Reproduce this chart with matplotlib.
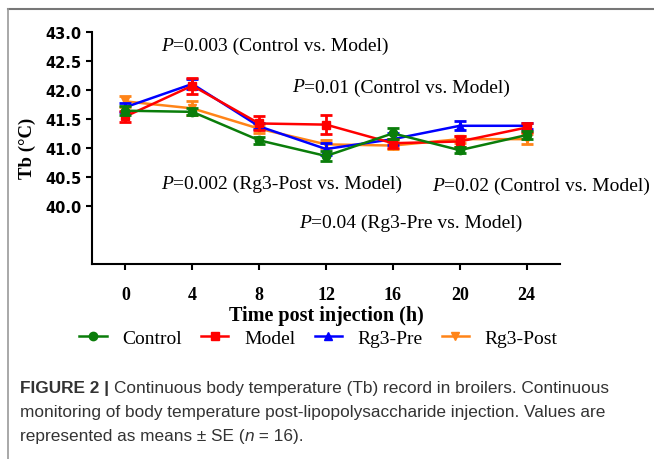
import matplotlib
matplotlib.use("Agg")
import matplotlib.pyplot as plt
from matplotlib.lines import Line2D

# ------------------------------------------------------
# Data
# ------------------------------------------------------
hours = [0, 4, 8, 12, 16, 20, 24]

control = [41.64, 41.62, 41.13, 40.86, 41.25, 40.96, 41.22]
control_se = [0.08, 0.06, 0.06, 0.09, 0.10, 0.05, 0.07]

model = [41.54, 42.07, 41.42, 41.40, 41.08, 41.11, 41.35]
model_se = [0.10, 0.14, 0.12, 0.17, 0.08, 0.09, 0.08]

rg3_pre = [41.70, 42.10, 41.37, 40.98, 41.15, 41.38, 41.38]
rg3_pre_se = [0.08, 0.08, 0.05, 0.10, 0.10, 0.08, 0.05]

rg3_post = [41.80, 41.68, 41.33, 41.06, 41.04, 41.15, 41.15]
rg3_post_se = [0.10, 0.12, 0.07, 0.07, 0.06, 0.06, 0.09]

y_ticks = [40.0, 40.5, 41.0, 41.5, 42.0, 42.5, 43.0]

annotations = [
    ("0.003 (Control vs. Model)", 2.15, 42.77),
    ("0.01 (Control vs. Model)", 10.0, 42.05),
    ("0.002 (Rg3-Post vs. Model)", 2.15, 40.39),
    ("0.02 (Control vs. Model)", 18.35, 40.36),
    ("0.04 (Rg3-Pre vs. Model)", 10.4, 39.72),
]

SERIF = "Liberation Serif"
SANS = "Liberation Sans"
CAPCOL = "#333333"

fig = plt.figure(figsize=(6.54, 4.60), dpi=100)
ax = fig.add_axes([0.1407, 0.4239, 0.8563 - 0.1407, 0.9289 - 0.4239])

series = [
    ("Rg3-Post", rg3_post, rg3_post_se, "#ff8418", "v", 2),
    ("Rg3-Pre", rg3_pre, rg3_pre_se, "#0000ff", "^", 3),
    ("Model", model, model_se, "#ff0000", "s", 4),
    ("Control", control, control_se, "#0a7d0a", "o", 5),
]
handles = {}
for name, vals, se, col, mk, z in series:
    ax.errorbar(hours, vals, yerr=se, color=col, marker=mk, markersize=6,
                linewidth=1.8, elinewidth=2, capsize=4, capthick=2, zorder=z)
    handles[name] = Line2D([], [], color=col, marker=mk, markersize=6, linewidth=1.8)

ax.set_xlim(-2, 26)
ax.set_ylim(39, 43)
ax.set_xticks(hours)
ax.set_yticks(y_ticks)
ax.set_yticklabels([f"{t:.1f}" for t in y_ticks])
ax.spines["top"].set_visible(False)
ax.spines["right"].set_visible(False)
for s in ["left", "bottom"]:
    ax.spines[s].set_linewidth(1.5)
ax.tick_params(width=1.5, length=4, direction="out")
ax.tick_params(axis="x", pad=12)
for lab in ax.get_xticklabels():
    lab.set_fontfamily(SERIF)
    lab.set_fontweight("bold")
    lab.set_fontsize(13)
for lab in ax.get_yticklabels():
    lab.set_fontfamily("DejaVu Sans")
    lab.set_fontweight("bold")
    lab.set_fontsize(10.5)

ax.set_xlabel("Time post injection (h)", fontfamily=SERIF, fontweight="bold",
              fontsize=14.5, labelpad=1)
ax.set_ylabel("Tb (°C)", fontfamily=SERIF, fontweight="bold", fontsize=13.5,
              labelpad=7)

order = ["Control", "Model", "Rg3-Pre", "Rg3-Post"]
fig.legend([handles[k] for k in order], order, loc="center",
           bbox_to_anchor=(0.487, 0.262), ncol=4, frameon=False,
           prop={"family": SERIF, "size": 14}, handlelength=1.4,
           handletextpad=0.8, columnspacing=1.0)

renderer = fig.canvas.get_renderer()


def pieces(x, y, parts, transform, size, va="center"):
    # draw consecutive text runs with different styles on one line
    t = transform
    for txt, kw in parts:
        obj = fig.text(x, y, txt, transform=t, fontsize=size, va=va, ha="left", **kw)
        w = obj.get_window_extent(renderer).width
        t = matplotlib.transforms.offset_copy(t, fig=fig, x=w, units="dots")


for txt, x, y in annotations:
    pieces(x, y, [("P", {"family": SERIF, "style": "italic"}),
                  ("=" + txt, {"family": SERIF})], ax.transData, 14)

# caption
cap = 12.4
pieces(20 / 654, 1 - 389 / 460,
       [("FIGURE 2 | ", {"family": SANS, "weight": "bold", "color": CAPCOL}),
        ("Continuous body temperature (Tb) record in broilers. Continuous",
         {"family": SANS, "color": CAPCOL})], fig.transFigure, cap)
fig.text(20 / 654, 1 - 413 / 460,
         "monitoring of body temperature post-lipopolysaccharide injection. Values are",
         family=SANS, color=CAPCOL, fontsize=cap, va="center")
pieces(20 / 654, 1 - 437 / 460,
       [("represented as means \u00b1 SE (", {"family": SANS, "color": CAPCOL}),
        ("n", {"family": SANS, "style": "italic", "color": CAPCOL}),
        (" = 16).", {"family": SANS, "color": CAPCOL})], fig.transFigure, cap)

# frame lines of the figure panel
fig.add_artist(Line2D([8 / 654, 1], [1 - 10 / 460] * 2, transform=fig.transFigure,
                      color="#777777", linewidth=1.5))
fig.add_artist(Line2D([8 / 654] * 2, [0, 1 - 10 / 460], transform=fig.transFigure,
                      color="#999999", linewidth=1.2))

fig.savefig("out.png", dpi=100)
